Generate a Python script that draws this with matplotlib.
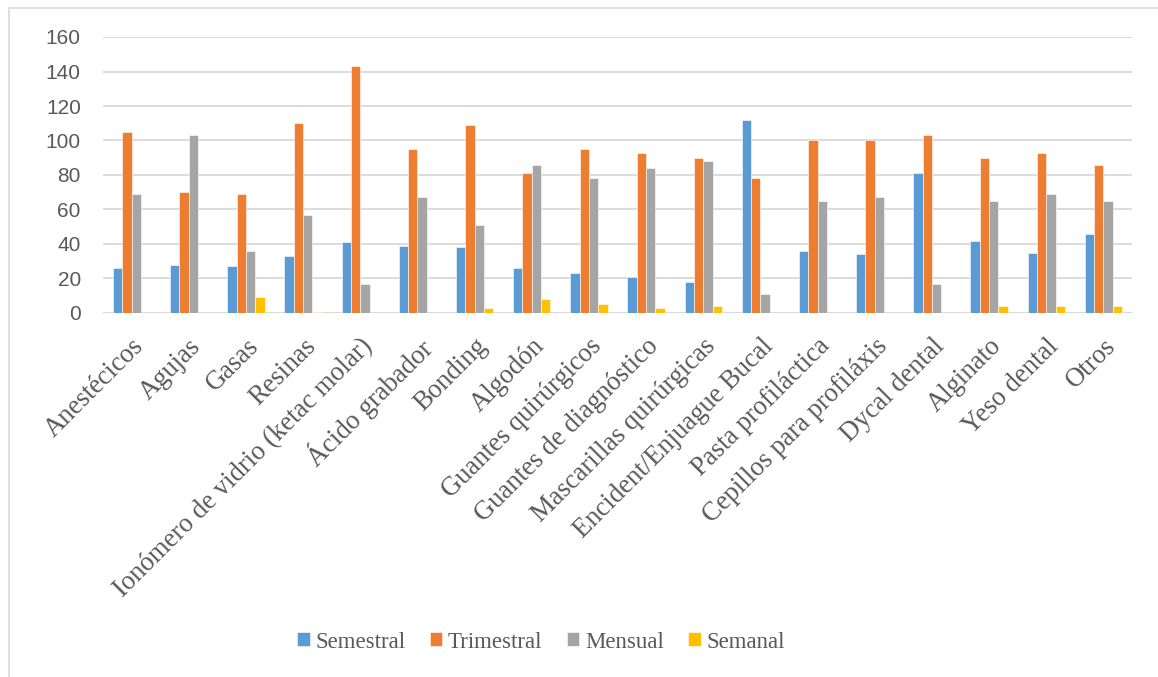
import numpy as np
import matplotlib.pyplot as plt
from matplotlib.patches import Rectangle

# datos
categorias = ["Anestécicos", "Agujas", "Gasas", "Resinas",
              "Ionómero de vidrio (ketac molar)", "Ácido grabador", "Bonding",
              "Algodón", "Guantes quirúrgicos", "Guantes de diagnóstico",
              "Mascarillas quirúrgicas", "Encident/Enjuague Bucal",
              "Pasta profiláctica", "Cepillos para profiláxis", "Dycal dental",
              "Alginato", "Yeso dental", "Otros"]
semestral = [26, 28, 27, 33, 41, 39, 38, 26, 23, 21, 18, 112, 36, 34, 81, 42, 35, 46]
trimestral = [105, 70, 69, 110, 143, 95, 109, 81, 95, 93, 90, 78, 100, 100, 103, 90, 93, 86]
mensual = [69, 103, 36, 57, 17, 67, 51, 86, 78, 84, 88, 11, 65, 67, 17, 65, 69, 65]
semanal = [0, 0, 9, 0.5, 0, 0, 3, 8, 5, 3, 4, 0, 0, 0, 0, 4, 4, 4]

series = [("Semestral", semestral, "#5B9BD5"),
          ("Trimestral", trimestral, "#ED7D31"),
          ("Mensual", mensual, "#A5A5A5"),
          ("Semanal", semanal, "#FFC000")]

W, H = 1158, 677
fig = plt.figure(figsize=(W / 100, H / 100), dpi=100)
ax = fig.add_axes([103 / W, 1 - 313 / H, (1132 - 103) / W, (313 - 37) / H])

# marco del gráfico
fig.patches.append(Rectangle((8.5 / W, -0.1), 1.2, 1.1 - 7.5 / H, transform=fig.transFigure,
                             fill=False, edgecolor="#d9d9d9", linewidth=1.2))

x = np.arange(len(categorias))
ancho = 0.163
for i, (nombre, vals, color) in enumerate(series):
    ax.bar(x + (i - 1.5) * ancho, vals, width=ancho, color=color, label=nombre,
           edgecolor="white", linewidth=0.4, zorder=3)

ax.set_xlim(-0.5, len(categorias) - 0.5)
ax.set_ylim(0, 160)
ax.set_yticks(range(0, 161, 20))
ax.grid(axis="y", color="#d9d9d9", linewidth=1.3, zorder=0)
for s in ["top", "right", "left", "bottom"]:
    ax.spines[s].set_visible(False)
ax.axhline(0, color="#d9d9d9", linewidth=1.3, zorder=1)

ax.tick_params(axis="y", length=0, pad=16, labelsize=15, labelcolor="#595959")
for lab in ax.get_yticklabels():
    lab.set_family("Liberation Sans")
ax.set_xticks(x)
ax.set_xticklabels(categorias, rotation=45, ha="right", rotation_mode="anchor",
                   family="Liberation Serif", fontsize=19.2, color="#595959")
ax.tick_params(axis="x", length=0, pad=15)

ax.legend(loc="center", bbox_to_anchor=(541 / W, 1 - 642 / H), bbox_transform=fig.transFigure,
          ncols=4, frameon=False, prop={"family": "Liberation Serif", "size": 16.5},
          labelcolor="#595959", handlelength=0.55, handleheight=0.55, handletextpad=0.25,
          columnspacing=1.05)

fig.savefig("out.png", dpi=100)
